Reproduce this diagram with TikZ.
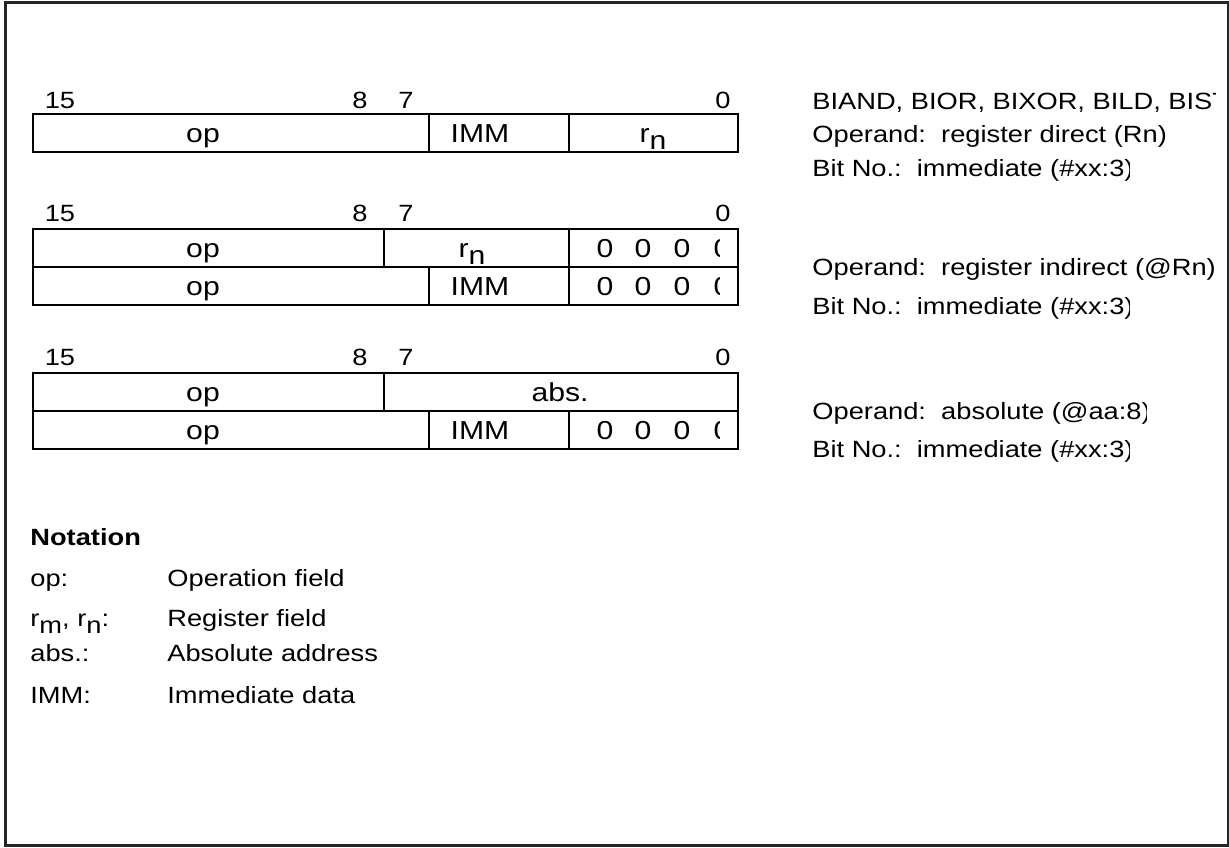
\documentclass[tikz,border=0pt]{standalone}
\usepackage{fontspec}
\setmainfont{Liberation Sans}[FakeStretch=1.16]
\usetikzlibrary{positioning}
\newcommand{\lowsub}[1]{\raisebox{-0.3em}{#1}}

\begin{document}
\begin{tikzpicture}[
    x=0.5pt, y=-0.5pt,
    frame/.style={draw=black!85, line width=1.5pt},
    cell/.style={draw, line width=1.2pt},
    bitno/.style={anchor=base, inner sep=0pt, font=\fontsize{11.75}{14}\selectfont},
    field/.style={anchor=base, inner sep=0pt, font=\fontsize{13}{15}\selectfont},
    desc/.style={anchor=base west, inner sep=0pt, font=\fontsize{11.75}{14}\selectfont}
]
    \useasboundingbox (0,0) rectangle (1229,847);
    \draw[frame] (5,2) rectangle (1228,845);

    % format 1: register direct
    \foreach \bx/\bt in {60/15, 360/8, 406/7, 723/0}
        \node[bitno] (ba\bt) at (\bx,108) {\bt};
    \draw[cell] (33,114) rectangle (738,152);
    \draw[cell] (429,114) -- (429,152) (569,114) -- (569,152);
    \node[field] (opa) at (203,142) {op};
    \node[field] (imma) at (480,142) {IMM};
    \node[field] (rna) at (653,142) {r\lowsub{n}};

    % format 2: register indirect
    \foreach \bx/\bt in {60/15, 360/8, 406/7, 723/0}
        \node[bitno] (bb\bt) at (\bx,221) {\bt};
    \draw[cell] (33,229) rectangle (738,305);
    \draw[cell] (33,267) -- (738,267);
    \draw[cell] (384,229) -- (384,267) (569,229) -- (569,305) (429,267) -- (429,305);
    \node[field] (opb) at (203,257) {op};
    \node[field] (rnb) at (472,257) {r\lowsub{n}};
    \node[field] (opc) at (203,295) {op};
    \node[field] (immc) at (480,295) {IMM};
    \begin{scope}
        \clip (575,229) rectangle (719,305);
        \foreach \zx [count=\k] in {605,643,682,722} {
            \node[field] (zb\k) at (\zx,257) {0};
            \node[field] (zc\k) at (\zx,295) {0};
        }
    \end{scope}

    % format 3: absolute
    \foreach \bx/\bt in {60/15, 360/8, 406/7, 723/0}
        \node[bitno] (bd\bt) at (\bx,365) {\bt};
    \draw[cell] (33,373) rectangle (738,449);
    \draw[cell] (33,411) -- (738,411);
    \draw[cell] (384,373) -- (384,411) (429,411) -- (429,449) (569,411) -- (569,449);
    \node[field] (opd) at (203,401) {op};
    \node[field] (absd) at (560,401) {abs.};
    \node[field] (ope) at (203,439) {op};
    \node[field] (imme) at (480,439) {IMM};
    \begin{scope}
        \clip (575,411) rectangle (719,449);
        \foreach \zx [count=\k] in {605,643,682,722}
            \node[field] (ze\k) at (\zx,439) {0};
    \end{scope}

    % descriptions
    \begin{scope}
        \clip (800,80) rectangle (1215,120);
        \node[desc] (insn) at (812,109) {BIAND, BIOR, BIXOR, BILD, BIST};
    \end{scope}
    \node[desc] (opnda) at (812,142) {Operand:\ \ register direct (Rn)};
    \node[desc] (opndb) at (812,275) {Operand:\ \ register indirect (@Rn)};
    \begin{scope}
        \clip (800,150) rectangle (1129,470);
        \node[desc] (bita) at (812,176) {Bit No.:\ \ immediate (\#xx:3)};
        \node[desc] (bitb) at (812,314) {Bit No.:\ \ immediate (\#xx:3)};
        \node[desc] (bitd) at (812,457) {Bit No.:\ \ immediate (\#xx:3)};
    \end{scope}
    \begin{scope}
        \clip (800,390) rectangle (1146,430);
        \node[desc] (opndd) at (812,419) {Operand:\ \ absolute (@aa:8)};
    \end{scope}

    % notation
    \node[desc, font=\fontsize{11.75}{14}\selectfont\bfseries] (nota) at (30,545) {Notation};
    \node[desc] (k1) at (30,586) {op:};
    \node[desc] (v1) at (167,586) {Operation field};
    \node[desc] (k2) at (30,626) {r\lowsub{m}, r\lowsub{n}:};
    \node[desc] (v2) at (167,626) {Register field};
    \node[desc] (k3) at (30,661) {abs.:};
    \node[desc] (v3) at (167,661) {Absolute address};
    \node[desc] (k4) at (30,703) {IMM:};
    \node[desc] (v4) at (167,703) {Immediate data};
\end{tikzpicture}
\end{document}
